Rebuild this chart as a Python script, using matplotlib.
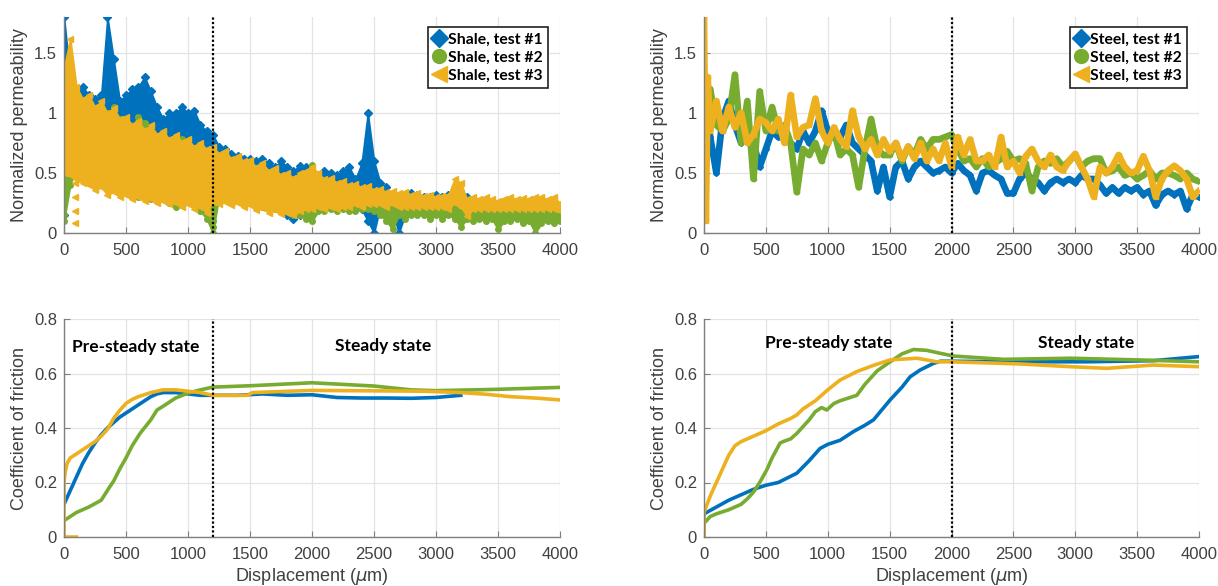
import numpy as np
import matplotlib.pyplot as plt
from matplotlib.lines import Line2D

blue, green, gold = '#0072BD', '#77AC30', '#EDB120'

# ---- permeability, shale (band envelopes read every 50 um) ----
x50 = np.arange(0, 4001, 50)

shale1_hi = [1.8, 1.3, 1.2, 1.22, 1.15, 1.12, 1.15, 1.8, 1.45, 1.1, 1.15, 1.2, 1.22, 1.3, 1.18, 1.05,
             0.95, 1.0, 1.0, 1.05, 1.0, 1.02, 0.9, 0.85, 0.82, 0.72, 0.7, 0.66, 0.64, 0.62, 0.62, 0.6,
             0.62, 0.58, 0.55, 0.6, 0.55, 0.52, 0.56, 0.55, 0.5, 0.48, 0.52, 0.5, 0.48, 0.52, 0.55, 0.45,
             0.58, 1.0, 0.6, 0.42, 0.38, 0.32, 0.3, 0.3, 0.33, 0.32, 0.3, 0.3, 0.32, 0.3, 0.32, 0.3,
             0.32, 0.3, 0.25]
shale1_lo = [0.15, 0.55, 0.58, 0.6, 0.6, 0.58, 0.42, 0.5, 0.6, 0.6, 0.55, 0.55, 0.55, 0.55, 0.55, 0.5,
             0.55, 0.5, 0.5, 0.5, 0.48, 0.45, 0.45, 0.45, 0.45, 0.42, 0.4, 0.4, 0.38, 0.38, 0.38, 0.35,
             0.35, 0.32, 0.3, 0.2, 0.15, 0.12, 0.15, 0.2, 0.2, 0.22, 0.2, 0.22, 0.25, 0.22, 0.25, 0.2,
             0.2, 0.1, 0.0, 0.22, 0.2, 0.18, 0.0, 0.15, 0.2, 0.2, 0.22, 0.22, 0.22, 0.22, 0.2, 0.18,
             0.22, 0.22, 0.2]
shale2_hi = [1.1, 1.05, 1.0, 0.98, 0.95, 0.93, 0.92, 1.0, 1.05, 0.95, 0.9, 0.85, 0.97, 0.92, 0.82, 0.78,
             0.75, 0.72, 0.8, 0.78, 0.7, 0.68, 0.62, 0.6, 0.62, 0.6, 0.55, 0.55, 0.5, 0.5, 0.48, 0.45,
             0.45, 0.42, 0.4, 0.4, 0.38, 0.35, 0.4, 0.45, 0.57, 0.35, 0.3, 0.3, 0.3, 0.28, 0.3, 0.28,
             0.3, 0.28, 0.28, 0.26, 0.25, 0.25, 0.25, 0.25, 0.25, 0.24, 0.24, 0.25, 0.25, 0.24, 0.24, 0.26,
             0.22, 0.22, 0.22, 0.22, 0.22, 0.2, 0.22, 0.2, 0.22, 0.22, 0.2, 0.22, 0.2, 0.22, 0.22, 0.2,
             0.18]
shale2_lo = [0.1, 0.4, 0.55, 0.52, 0.5, 0.42, 0.42, 0.45, 0.42, 0.4, 0.35, 0.32, 0.3, 0.3, 0.28, 0.3,
             0.32, 0.25, 0.22, 0.25, 0.28, 0.25, 0.18, 0.12, 0.0, 0.3, 0.3, 0.28, 0.28, 0.25, 0.25, 0.22,
             0.22, 0.2, 0.2, 0.18, 0.18, 0.15, 0.15, 0.12, 0.1, 0.18, 0.18, 0.2, 0.18, 0.2, 0.18, 0.18,
             0.2, 0.2, 0.18, 0.15, 0.1, 0.03, 0.15, 0.12, 0.15, 0.15, 0.15, 0.12, 0.15, 0.12, 0.15, 0.12,
             0.05, 0.12, 0.1, 0.12, 0.1, 0.12, 0.03, 0.1, 0.1, 0.12, 0.08, 0.1, 0.0, 0.08, 0.1, 0.08,
             0.1]
shale3_hi = [1.38, 1.62, 1.22, 1.12, 1.15, 1.05, 1.1, 1.0, 1.04, 0.95, 0.97, 0.9, 0.93, 0.86, 0.9, 0.82,
             0.85, 0.78, 0.82, 0.76, 0.78, 0.72, 0.75, 0.7, 0.72, 0.66, 0.68, 0.62, 0.64, 0.6, 0.61, 0.55,
             0.58, 0.52, 0.54, 0.48, 0.5, 0.46, 0.5, 0.52, 0.55, 0.5, 0.45, 0.46, 0.42, 0.43, 0.4, 0.41,
             0.38, 0.39, 0.36, 0.37, 0.34, 0.35, 0.33, 0.34, 0.32, 0.33, 0.31, 0.32, 0.3, 0.31, 0.32, 0.45,
             0.42, 0.28, 0.3, 0.28, 0.3, 0.28, 0.27, 0.28, 0.3, 0.28, 0.29, 0.28, 0.3, 0.3, 0.28, 0.3,
             0.25]
shale3_lo = [0.5, 0.48, 0.45, 0.42, 0.4, 0.36, 0.38, 0.32, 0.34, 0.3, 0.32, 0.28, 0.3, 0.27, 0.28, 0.25,
             0.27, 0.24, 0.25, 0.22, 0.24, 0.2, 0.22, 0.17, 0.26, 0.24, 0.26, 0.23, 0.25, 0.22, 0.23, 0.19,
             0.21, 0.17, 0.19, 0.16, 0.17, 0.15, 0.18, 0.2, 0.2, 0.22, 0.2, 0.22, 0.2, 0.22, 0.22, 0.24,
             0.22, 0.24, 0.24, 0.24, 0.22, 0.24, 0.22, 0.22, 0.22, 0.22, 0.22, 0.22, 0.22, 0.22, 0.2, 0.25,
             0.22, 0.14, 0.2, 0.2, 0.2, 0.2, 0.2, 0.2, 0.2, 0.2, 0.2, 0.2, 0.2, 0.2, 0.2, 0.2,
             0.18]
# isolated points under the bands near the start
shale3_dots_x = [90, 90, 90, 90]
shale3_dots_y = [0.42, 0.3, 0.18, 0.08]
shale2_dots_x = [0, 0, 0, 1200, 1200]
shale2_dots_y = [0.4, 0.25, 0.15, 0.1, 0.05]

# ---- permeability, steel ----
xs = [0, 15, 30] + list(range(50, 4001, 50))
steel1 = [1.2, 0.6, 1.0, 0.8, 0.5, 0.95, 1.1, 0.9, 0.75, 0.85, 0.75, 0.55, 0.7, 0.85, 0.8, 0.8,
          0.75, 0.7, 0.85, 0.75, 0.85, 1.02, 0.85, 0.8, 0.8, 0.9, 0.75, 0.7, 0.65, 0.6, 0.35, 0.55,
          0.3, 0.55, 0.6, 0.45, 0.55, 0.6, 0.55, 0.5, 0.52, 0.55, 0.5, 0.58, 0.52, 0.48, 0.35, 0.5,
          0.52, 0.48, 0.45, 0.33, 0.33, 0.45, 0.5, 0.45, 0.42, 0.35, 0.42, 0.45, 0.42, 0.45, 0.42, 0.48,
          0.45, 0.45, 0.4, 0.33, 0.38, 0.33, 0.38, 0.35, 0.38, 0.32, 0.35, 0.23, 0.32, 0.35, 0.32, 0.35,
          0.2, 0.32, 0.3]
steel2 = [0.3, 1.3, 0.9, 1.2, 0.9, 0.85, 0.95, 1.32, 0.75, 1.1, 0.45, 1.18, 0.85, 1.05, 0.85, 0.9,
          0.75, 0.34, 0.7, 0.65, 0.75, 0.6, 0.75, 0.85, 0.65, 0.7, 0.65, 0.38, 0.7, 0.95, 0.7, 0.65,
          0.65, 0.75, 0.6, 0.72, 0.65, 0.78, 0.7, 0.78, 0.78, 0.8, 0.82, 0.7, 0.6, 0.62, 0.55, 0.62,
          0.55, 0.58, 0.62, 0.68, 0.6, 0.62, 0.58, 0.35, 0.55, 0.6, 0.58, 0.62, 0.55, 0.6, 0.65, 0.55,
          0.6, 0.62, 0.62, 0.5, 0.52, 0.55, 0.48, 0.5, 0.45, 0.48, 0.52, 0.45, 0.5, 0.5, 0.48, 0.45,
          0.5, 0.45, 0.43]
steel3 = [1.8, 0.1, 1.3, 0.85, 1.1, 0.85, 1.05, 0.88, 1.0, 0.75, 0.82, 0.95, 0.92, 0.85, 0.95, 0.75,
          1.15, 0.8, 0.88, 0.9, 1.12, 0.85, 0.75, 0.88, 0.78, 0.72, 1.02, 0.8, 0.7, 0.78, 0.65, 0.78,
          0.68, 0.75, 0.62, 0.72, 0.62, 0.75, 0.6, 0.7, 0.6, 0.75, 0.55, 0.8, 0.65, 0.78, 0.6, 0.6,
          0.65, 0.55, 0.8, 0.55, 0.6, 0.5, 0.64, 0.7, 0.6, 0.55, 0.65, 0.55, 0.52, 0.6, 0.66, 0.55,
          0.45, 0.3, 0.55, 0.5, 0.55, 0.65, 0.55, 0.5, 0.52, 0.64, 0.52, 0.3, 0.45, 0.52, 0.56, 0.52,
          0.45, 0.3, 0.35]

# ---- friction, shale ----
fs1_x = [0, 50, 100, 150, 200, 250, 300, 350, 400, 450, 500, 550, 600, 650, 700, 750, 800, 900,
         1000, 1100, 1200, 1400, 1600, 1800, 2000, 2200, 2400, 2600, 2800, 3000, 3200]
fs1_y = [0.12, 0.17, 0.22, 0.27, 0.31, 0.345, 0.375, 0.4, 0.42, 0.44, 0.455, 0.47, 0.485, 0.5, 0.515,
         0.525, 0.53, 0.53, 0.525, 0.52, 0.52, 0.52, 0.525, 0.52, 0.522, 0.512, 0.51, 0.51, 0.509,
         0.512, 0.52]
fs2_x = [0, 50, 100, 200, 300, 370, 400, 450, 500, 550, 613, 700, 750, 800, 900, 1000, 1100, 1200,
         1500, 2000, 2500, 2800, 3000, 3500, 4000]
fs2_y = [0.06, 0.075, 0.09, 0.11, 0.135, 0.185, 0.205, 0.25, 0.29, 0.335, 0.38, 0.43, 0.466, 0.48,
         0.51, 0.528, 0.54, 0.55, 0.555, 0.566, 0.554, 0.54, 0.537, 0.542, 0.549]
fs3_x = [100, 0, 0, 10, 25, 50, 100, 150, 200, 250, 300, 350, 400, 450, 500, 550, 600, 700, 800, 900,
         1000, 1100, 1200, 1300, 1480, 1520, 1700, 2000, 2300, 2600, 2900, 3200, 3400, 3600, 3800, 4000]
fs3_y = [0, 0, 0.2, 0.24, 0.27, 0.29, 0.305, 0.32, 0.335, 0.35, 0.37, 0.395, 0.435, 0.465, 0.49, 0.505,
         0.515, 0.53, 0.54, 0.54, 0.535, 0.53, 0.52, 0.52, 0.52, 0.53, 0.533, 0.538, 0.537, 0.536,
         0.535, 0.53, 0.524, 0.515, 0.51, 0.503]

# ---- friction, steel ----
ft1_x = [0, 0, 100, 200, 300, 400, 500, 600, 750, 850, 938, 1000, 1100, 1208, 1300, 1370, 1504,
         1600, 1666, 1747, 1854, 1910, 2000, 2500, 3095, 3630, 4000]
ft1_y = [0, 0.085, 0.11, 0.135, 0.155, 0.175, 0.19, 0.2, 0.234, 0.28, 0.325, 0.34, 0.355, 0.387,
         0.41, 0.43, 0.503, 0.55, 0.588, 0.613, 0.637, 0.645, 0.645, 0.643, 0.643, 0.647, 0.662]
ft2_x = [0, 0, 50, 100, 200, 300, 350, 400, 450, 507, 550, 615, 650, 700, 750, 800, 850, 900, 950,
         992, 1050, 1100, 1235, 1300, 1400, 1504, 1600, 1693, 1800, 1900, 2016, 2420, 2960, 3500, 4000]
ft2_y = [0, 0.05, 0.075, 0.085, 0.1, 0.12, 0.14, 0.165, 0.2, 0.246, 0.29, 0.345, 0.352, 0.36, 0.38,
         0.405, 0.43, 0.46, 0.475, 0.466, 0.49, 0.5, 0.52, 0.56, 0.61, 0.643, 0.672, 0.688, 0.685,
         0.675, 0.664, 0.652, 0.656, 0.65, 0.643]
ft3_x = [0, 0, 50, 100, 150, 200, 250, 300, 400, 500, 600, 700, 750, 800, 900, 1000, 1100, 1235,
         1370, 1504, 1720, 1880, 2000, 2555, 2960, 3255, 3630, 4000]
ft3_y = [0, 0.09, 0.15, 0.2, 0.25, 0.3, 0.335, 0.35, 0.37, 0.39, 0.415, 0.435, 0.448, 0.47, 0.5,
         0.54, 0.576, 0.607, 0.63, 0.65, 0.656, 0.643, 0.643, 0.635, 0.625, 0.619, 0.631, 0.625]

plt.rcParams['font.family'] = ['Liberation Sans', 'DejaVu Sans']
txt = '#404040'

fig = plt.figure(figsize=(12.18, 5.86), dpi=100)
W, H = 1218, 586
ax_tl = fig.add_axes([64 / W, 1 - 233 / H, 496 / W, 216 / H])
ax_tr = fig.add_axes([704 / W, 1 - 233 / H, 495 / W, 216 / H])
ax_bl = fig.add_axes([64 / W, 1 - 537 / H, 496 / W, 218 / H])
ax_br = fig.add_axes([704 / W, 1 - 537 / H, 495 / W, 218 / H])


def style(ax, ymax, yticks):
    ax.set_xlim(0, 4000)
    ax.set_ylim(0, ymax)
    ax.set_xticks(np.arange(0, 4001, 500))
    ax.set_yticks(yticks)
    ax.set_yticklabels([f'{t:g}' for t in yticks])
    ax.grid(True, color='#e3e3e3', lw=0.9)
    ax.set_axisbelow(True)
    for s in ['top', 'right']:
        ax.spines[s].set_visible(False)
    for s in ['left', 'bottom']:
        ax.spines[s].set_color('#7f7f7f')
        ax.spines[s].set_linewidth(1.0)
    ax.tick_params(direction='in', length=4, color='#7f7f7f', labelcolor=txt, labelsize=12)
    ax.tick_params(axis='x', pad=7)
    ax.tick_params(axis='y', pad=5)


def band(ax, hi, lo, color, marker):
    x = x50[:len(hi)]
    ax.fill_between(x, lo, hi, color=color, lw=1.2, edgecolor=color, zorder=2)
    ax.plot(x, hi, ls='none', marker=marker, ms=4, color=color, zorder=2)
    ax.plot(x, lo, ls='none', marker=marker, ms=4, color=color, zorder=2)


def legend(ax, labels):
    handles = [Line2D([], [], ls='none', marker='D', ms=9, color=blue),
               Line2D([], [], ls='none', marker='o', ms=10, color=green),
               Line2D([], [], ls='none', marker='<', ms=11, color=gold)]
    lg = ax.legend(handles, labels, loc='upper right', bbox_to_anchor=(1 - 12 / 496, 1 - 10 / 216),
                   borderaxespad=0, fancybox=False, framealpha=1, handlelength=0.7,
                   handletextpad=0.2, labelspacing=0.25, borderpad=0.35,
                   prop={'family': 'Lato', 'weight': 'bold', 'size': 11.3})
    lg.get_frame().set_edgecolor('#202020')
    lg.get_frame().set_linewidth(1.2)


# top left: shale permeability
ax = ax_tl
style(ax, 1.8, [0, 0.5, 1, 1.5])
band(ax, shale1_hi, shale1_lo, blue, 'D')
band(ax, shale2_hi, shale2_lo, green, 'o')
ax.plot(shale2_dots_x, shale2_dots_y, ls='none', marker='o', ms=4, color=green)
band(ax, shale3_hi, shale3_lo, gold, '<')
ax.plot(shale3_dots_x, shale3_dots_y, ls='none', marker='<', ms=4, color=gold)
ax.axvline(1200, color='k', ls=(0, (1, 1)), lw=1.6, zorder=3)
ax.set_ylabel('Normalized permeability', color=txt, fontsize=13)
legend(ax, ['Shale, test #1', 'Shale, test #2', 'Shale, test #3'])

# top right: steel permeability
ax = ax_tr
style(ax, 1.8, [0, 0.5, 1, 1.5])
ax.plot(xs, steel1, color=blue, lw=4.8, marker='D', ms=3)
ax.plot(xs, steel2, color=green, lw=4.8, marker='o', ms=3)
ax.plot(xs, steel3, color=gold, lw=4.8, marker='<', ms=3)
ax.axvline(2000, color='k', ls=(0, (1, 1)), lw=1.6, zorder=3)
ax.set_ylabel('Normalized permeability', color=txt, fontsize=13)
legend(ax, ['Steel, test #1', 'Steel, test #2', 'Steel, test #3'])

# bottom left: shale friction
ax = ax_bl
style(ax, 0.8, [0, 0.2, 0.4, 0.6, 0.8])
ax.plot(fs1_x, fs1_y, color=blue, lw=2.6)
ax.plot(fs2_x, fs2_y, color=green, lw=2.6)
ax.plot(fs3_x, fs3_y, color=gold, lw=2.6)
ax.axvline(1200, color='k', ls=(0, (1, 1)), lw=1.6, zorder=3)
ax.text(65, 0.697, 'Pre-steady state', family='Lato', weight='bold', fontsize=12.5, va='center')
ax.text(2573, 0.70, 'Steady state', family='Lato', weight='bold', fontsize=12.5, va='center', ha='center')
ax.set_ylabel('Coefficient of friction', color=txt, fontsize=13)
ax.set_xlabel('Displacement ($\\mu$m)', color=txt, fontsize=13, labelpad=3)

# bottom right: steel friction
ax = ax_br
style(ax, 0.8, [0, 0.2, 0.4, 0.6, 0.8])
ax.plot(ft1_x, ft1_y, color=blue, lw=2.6)
ax.plot(ft2_x, ft2_y, color=green, lw=2.6)
ax.plot(ft3_x, ft3_y, color=gold, lw=2.6)
ax.axvline(2000, color='k', ls=(0, (1, 1)), lw=1.6, zorder=3)
ax.text(1010, 0.713, 'Pre-steady state', family='Lato', weight='bold', fontsize=12.5, va='center', ha='center')
ax.text(3091, 0.713, 'Steady state', family='Lato', weight='bold', fontsize=12.5, va='center', ha='center')
ax.set_ylabel('Coefficient of friction', color=txt, fontsize=13)
ax.set_xlabel('Displacement ($\\mu$m)', color=txt, fontsize=13, labelpad=3)

fig.savefig('out.png', dpi=100)
